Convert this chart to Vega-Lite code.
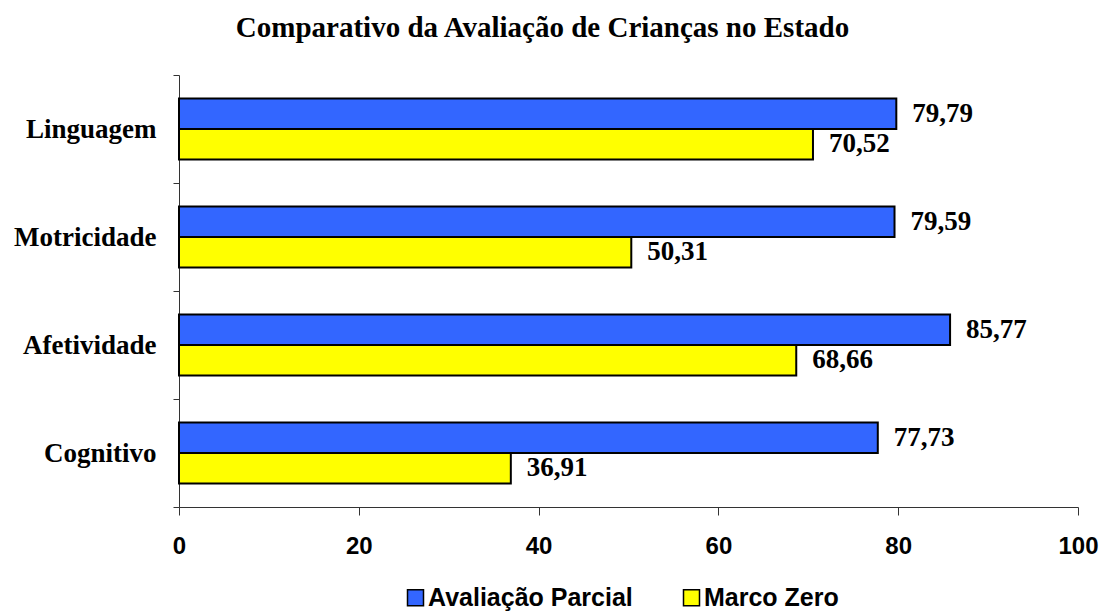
{
  "$schema": "https://vega.github.io/schema/vega-lite/v6.json",
  "autosize": "none",
  "width": 899,
  "height": 432,
  "padding": {"left": 179, "top": 75, "right": 26, "bottom": 107},
  "background": "white",
  "config": {
    "view": {"stroke": null},
    "locale": {"number": {"decimal": ",", "thousands": ".", "grouping": [3], "currency": ["R$", ""]}}
  },
  "title": {
    "text": "Comparativo da Avaliação de Crianças no Estado",
    "font": "Liberation Serif",
    "fontSize": 29,
    "fontWeight": "bold",
    "color": "black",
    "anchor": "middle",
    "dx": -86,
    "offset": 18
  },
  "data": {
    "values": [
      {"area": "Linguagem", "serie": "Avaliação Parcial", "valor": 79.79},
      {"area": "Linguagem", "serie": "Marco Zero", "valor": 70.52},
      {"area": "Motricidade", "serie": "Avaliação Parcial", "valor": 79.59},
      {"area": "Motricidade", "serie": "Marco Zero", "valor": 50.31},
      {"area": "Afetividade", "serie": "Avaliação Parcial", "valor": 85.77},
      {"area": "Afetividade", "serie": "Marco Zero", "valor": 68.66},
      {"area": "Cognitivo", "serie": "Avaliação Parcial", "valor": 77.73},
      {"area": "Cognitivo", "serie": "Marco Zero", "valor": 36.91}
    ]
  },
  "encoding": {
    "y": {
      "field": "area",
      "type": "nominal",
      "sort": ["Linguagem", "Motricidade", "Afetividade", "Cognitivo"],
      "scale": {"paddingInner": 0, "paddingOuter": 0},
      "axis": {
        "title": null,
        "tickBand": "extent",
        "tickSize": 6,
        "tickColor": "#333333",
        "domainColor": "#333333",
        "labelFont": "Liberation Serif",
        "labelFontSize": 27,
        "labelFontWeight": "bold",
        "labelColor": "black",
        "labelPadding": 17,
        "labelLimit": 0
      }
    },
    "yOffset": {
      "field": "serie",
      "type": "nominal",
      "sort": ["Avaliação Parcial", "Marco Zero"],
      "scale": {"paddingInner": 0, "paddingOuter": 0.77}
    },
    "x": {
      "field": "valor",
      "type": "quantitative",
      "scale": {"domain": [0, 100]},
      "axis": {
        "title": null,
        "values": [0, 20, 40, 60, 80, 100],
        "grid": false,
        "tickSize": 8,
        "tickColor": "#333333",
        "domainColor": "#333333",
        "labelFont": "Liberation Sans",
        "labelFontSize": 24,
        "labelFontWeight": "bold",
        "labelColor": "black",
        "labelPadding": 19,
        "labelFlush": false
      }
    }
  },
  "layer": [
    {
      "mark": {"type": "bar", "stroke": "black", "strokeWidth": 2},
      "encoding": {
        "color": {
          "field": "serie",
          "type": "nominal",
          "scale": {"domain": ["Avaliação Parcial", "Marco Zero"], "range": ["#3366FF", "#FFFF00"]},
          "legend": {
            "title": null,
            "orient": "none",
            "legendX": 224,
            "legendY": 510,
            "direction": "horizontal",
            "symbolType": "square",
            "symbolSize": 256,
            "symbolStrokeColor": "black",
            "symbolStrokeWidth": 1.5,
            "labelFont": "Liberation Sans",
            "labelFontSize": 25,
            "labelFontWeight": "bold",
            "labelColor": "black",
            "labelOffset": 0,
            "labelLimit": 0,
            "columnPadding": 46
          }
        }
      }
    },
    {
      "mark": {"type": "text", "align": "left", "baseline": "middle", "dx": 16, "font": "Liberation Serif", "fontSize": 27, "fontWeight": "bold", "color": "black"},
      "encoding": {
        "text": {"field": "valor", "type": "quantitative", "format": ".2f"}
      }
    }
  ]
}
